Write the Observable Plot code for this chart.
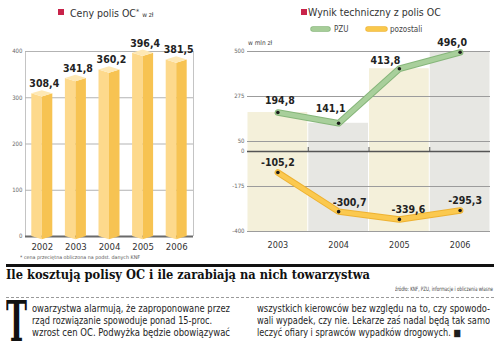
<!DOCTYPE html>
<html><head><meta charset="utf-8">
<script src="https://cdn.jsdelivr.net/npm/d3@7"></script>
<script src="https://cdn.jsdelivr.net/npm/@observablehq/plot@0.6"></script>
<style>
html,body{margin:0;padding:0;background:#fff}
body{width:500px;height:354px;overflow:hidden;position:relative;font-family:"DejaVu Sans Condensed","Liberation Sans Narrow","Roboto",sans-serif;color:#333}
.abs{position:absolute;white-space:nowrap}
.sq{position:absolute;width:6px;height:6px;background:#c8234a}
.body{font-size:9.6px;line-height:12px;color:#1e1e1e}
.lg{position:absolute;height:4px;border-radius:2px}
</style></head><body>
<div id="left" class="abs" style="left:0;top:0"></div>
<div id="right" class="abs" style="left:220px;top:0"></div>

<div class="sq" style="left:58px;top:9px"></div>
<div class="abs" style="left:70px;top:6px;font-size:10.5px;line-height:12px;color:#333">Ceny polis OC<span style="font-size:7px;vertical-align:3px">*</span> <span style="font-size:6.5px">w zł</span></div>

<div class="sq" style="left:301px;top:9px"></div>
<div id="rtitle" class="abs" style="left:308px;top:6px;font-size:10.5px;line-height:12px;color:#333">Wynik techniczny z polis OC</div>
<div class="lg" style="left:311px;top:27px;width:19px;background:#a6cd98;box-shadow:0 0 0 0.7px #86b67a"></div>
<div class="abs" style="left:334px;top:25px;font-size:8px;line-height:9px;color:#444">PZU</div>
<div class="lg" style="left:366px;top:27px;width:21px;background:#f9c84c;box-shadow:0 0 0 0.7px #efb536"></div>
<div class="abs" style="left:390px;top:25px;font-size:8px;line-height:9px;color:#444">pozostali</div>
<div class="abs" style="left:248px;top:39px;font-size:6.5px;line-height:8px;color:#444">w mln zł</div>

<div id="foot" class="abs" style="left:20px;top:254px;font-size:5px;line-height:6px;color:#555">* cena przeciętna obliczona na podst. danych KNF</div>
<div class="abs" style="left:6px;top:264px;width:488px;height:3px;background:#111"></div>
<div id="head" class="abs" style="left:6px;top:267px;font-family:'DejaVu Serif','Liberation Serif',serif;font-weight:bold;font-size:13.5px;line-height:15px;color:#111">Ile kosztują polisy OC i ile zarabiają na nich towarzystwa</div>
<div id="src" class="abs" style="left:395px;top:285px;font-size:6px;line-height:7px;color:#444">źródło: KNF, PZU, informacje i obliczenia własne</div>
<div class="abs" style="left:6px;top:297px;width:488px;height:0;border-top:1px dashed #9a9a9a"></div>

<div id="cap" class="abs" style="left:6px;top:291px;font-family:'DejaVu Serif','Liberation Serif',serif;font-weight:bold;font-size:56px;line-height:60px;color:#111">T</div>
<div id="l1" class="abs body" style="left:32px;top:303px">owarzystwa alarmują, że zaproponowane przez</div>
<div id="l2" class="abs body" style="left:32px;top:315px">rząd rozwiązanie spowoduje ponad 15-proc.</div>
<div id="l3" class="abs body" style="left:32px;top:327px">wzrost cen OC. Podwyżka będzie obowiązywać</div>
<div id="l4" class="abs body" style="left:257px;top:303px">wszystkich kierowców bez względu na to, czy spowodo-</div>
<div id="l5" class="abs body" style="left:257px;top:315px">wali wypadek, czy nie. Lekarze zaś nadal będą tak samo</div>
<div id="l6" class="abs body" style="left:257px;top:327px">leczyć ofiary i sprawców wypadków drogowych. ■</div>

<script>
// ---- data ----
const priceYears = [2002, 2003, 2004, 2005, 2006];
const prices = [308.4, 341.8, 360.2, 396.4, 381.5];
const resultYears = [2003, 2004, 2005, 2006];
const pzu = [194.8, 141.1, 413.8, 496.0];
const others = [-105.2, -300.7, -339.6, -295.3];
const priceTicks = [0, 100, 200, 300, 400];
const resultTicks = [500, 275, 50, 0, -175, -400];

const fmt = v => v.toFixed(1).replace(".", ",");
const FONT = '"DejaVu Sans Condensed","Liberation Sans Narrow",Roboto,sans-serif';

// ---- left chart: prism bars ----
const w = 0.3125, d = 7;
const leftFaces = [], rightFaces = [], caps = [];
priceYears.forEach((yr, i) => {
  const v = prices[i];
  leftFaces.push({id: i, x: yr - w, y1: 0, y2: v}, {id: i, x: yr, y1: -d, y2: v - d});
  rightFaces.push({id: i, x: yr, y1: -d, y2: v - d}, {id: i, x: yr + w, y1: 0, y2: v});
  caps.push({id: i, x: yr - w, y1: v, y2: v}, {id: i, x: yr, y1: v - d, y2: v + d}, {id: i, x: yr + w, y1: v, y2: v});
});

const left = Plot.plot({
  width: 200, height: 255,
  marginLeft: 25, marginRight: 7, marginTop: 51, marginBottom: 19,
  style: {fontFamily: FONT, background: "transparent", overflow: "visible"},
  x: {type: "linear", domain: [2001.5, 2006.5], axis: null},
  y: {domain: [0, 400], axis: null},
  marks: [
    Plot.ruleX([2001.5, 2006.5], {y1: 0, y2: 400, stroke: "#c4c4c4", strokeWidth: 1}),
    Plot.ruleY(priceTicks.filter(t => t > 0), {x1: 2001.5, x2: 2006.5, stroke: "#b3b3b3", strokeWidth: 1}),
    Plot.ruleY([0], {x1: 2001.5, x2: 2006.5, stroke: "#6a6a6a", strokeWidth: 2}),
    Plot.areaY(leftFaces, {x: "x", y1: "y1", y2: "y2", z: "id", fill: "#fdd98c", curve: "linear"}),
    Plot.areaY(rightFaces, {x: "x", y1: "y1", y2: "y2", z: "id", fill: "#f7c352", curve: "linear"}),
    Plot.areaY(caps, {x: "x", y1: "y1", y2: "y2", z: "id", fill: "#fee8b4", curve: "linear"}),
    Plot.text(priceTicks, {x: 2001.5, y: t => t, text: t => String(t), textAnchor: "end", dx: -3, fontSize: 6, fill: "#666"}),
    Plot.text(priceYears, {x: yr => yr, y: 0, dy: 10, text: yr => String(yr), fontSize: 9.5, fill: "#333"}),
    Plot.text(prices, {x: (v, i) => priceYears[i], y: v => v, text: v => fmt(v), dy: -10, dx: 2, fontSize: 10.5, fontWeight: "bold", fill: "#222"})
  ]
});
document.getElementById("left").appendChild(left);

// ---- right chart ----
const beige = "#f4f0da", gray = "#e7e7e3";
const pzuDx = [2, -8, -14, -8], pzuDy = [-12, -15, -8, -10];
const othDx = [0, 11, 9, 5], othDy = [-10, -9, -10, -10];
const labelMarks = [];
resultYears.forEach((yr, i) => {
  labelMarks.push(Plot.text([pzu[i]], {x: () => yr, y: v => v, text: v => fmt(v), dx: pzuDx[i], dy: pzuDy[i], fontSize: 10.5, fontWeight: "bold", fill: "#222"}));
  labelMarks.push(Plot.text([others[i]], {x: () => yr, y: v => v, text: v => fmt(v), dx: othDx[i], dy: othDy[i], fontSize: 10.5, fontWeight: "bold", fill: "#222"}));
});

const right = Plot.plot({
  width: 280, height: 255,
  marginLeft: 27, marginRight: 10, marginTop: 51, marginBottom: 24,
  style: {fontFamily: FONT, background: "transparent", overflow: "visible"},
  x: {type: "linear", domain: [2002.5, 2006.5], axis: null},
  y: {domain: [-400, 500], axis: null},
  marks: [
    Plot.rectY(resultYears, {x1: yr => yr - 0.5, x2: yr => yr + 0.5, y1: -400, y2: (yr, i) => pzu[i], fill: (yr, i) => i % 2 ? gray : beige, insetLeft: 0.5, insetRight: 0.5}),
    Plot.ruleY(resultTicks.filter(t => t !== 0), {x1: 2002.5, x2: 2006.5, stroke: "#9c9c9c", strokeWidth: 1}),
    Plot.ruleY([0], {x1: 2002.5, x2: 2006.5, stroke: "#555", strokeWidth: 1.5}),
    Plot.ruleX(resultYears.slice(0, 3).map(yr => yr + 0.5), {y1: 0, y2: 20, stroke: "#555", strokeWidth: 1}),
    Plot.line(pzu, {x: (v, i) => resultYears[i], y: v => v, stroke: "#86b67a", strokeWidth: 6.5, strokeLinejoin: "round"}),
    Plot.line(pzu, {x: (v, i) => resultYears[i], y: v => v, stroke: "#a8cf9b", strokeWidth: 4.5, strokeLinejoin: "round"}),
    Plot.line(others, {x: (v, i) => resultYears[i], y: v => v, stroke: "#eeb232", strokeWidth: 6.5, strokeLinejoin: "round"}),
    Plot.line(others, {x: (v, i) => resultYears[i], y: v => v, stroke: "#fbc94f", strokeWidth: 4.5, strokeLinejoin: "round"}),
    Plot.dot(pzu, {x: (v, i) => resultYears[i], y: v => v, r: 1.8, fill: "#1a1a1a"}),
    Plot.dot(others, {x: (v, i) => resultYears[i], y: v => v, r: 1.8, fill: "#1a1a1a"}),
    Plot.text(resultTicks, {x: 2002.5, y: t => t, text: t => String(t), textAnchor: "end", dx: -3, fontSize: 6, fill: "#666"}),
    Plot.text(resultYears, {x: yr => yr, y: -400, dy: 14, text: yr => String(yr), fontSize: 9, fill: "#333"}),
    ...labelMarks
  ]
});
document.getElementById("right").appendChild(right);

// ---- fit text widths ----
function fit(id, width) {
  const el = document.getElementById(id);
  const nat = el.getBoundingClientRect().width;
  el.style.transformOrigin = "left center";
  el.style.transform = `scaleX(${width / nat})`;
}
fit("head", 364);
fit("src", 98);
fit("foot", 120);
fit("cap", 21);
fit("l1", 198); fit("l2", 180); fit("l3", 198);
fit("l4", 233); fit("l5", 233); fit("l6", 204);
</script>
</body></html>
